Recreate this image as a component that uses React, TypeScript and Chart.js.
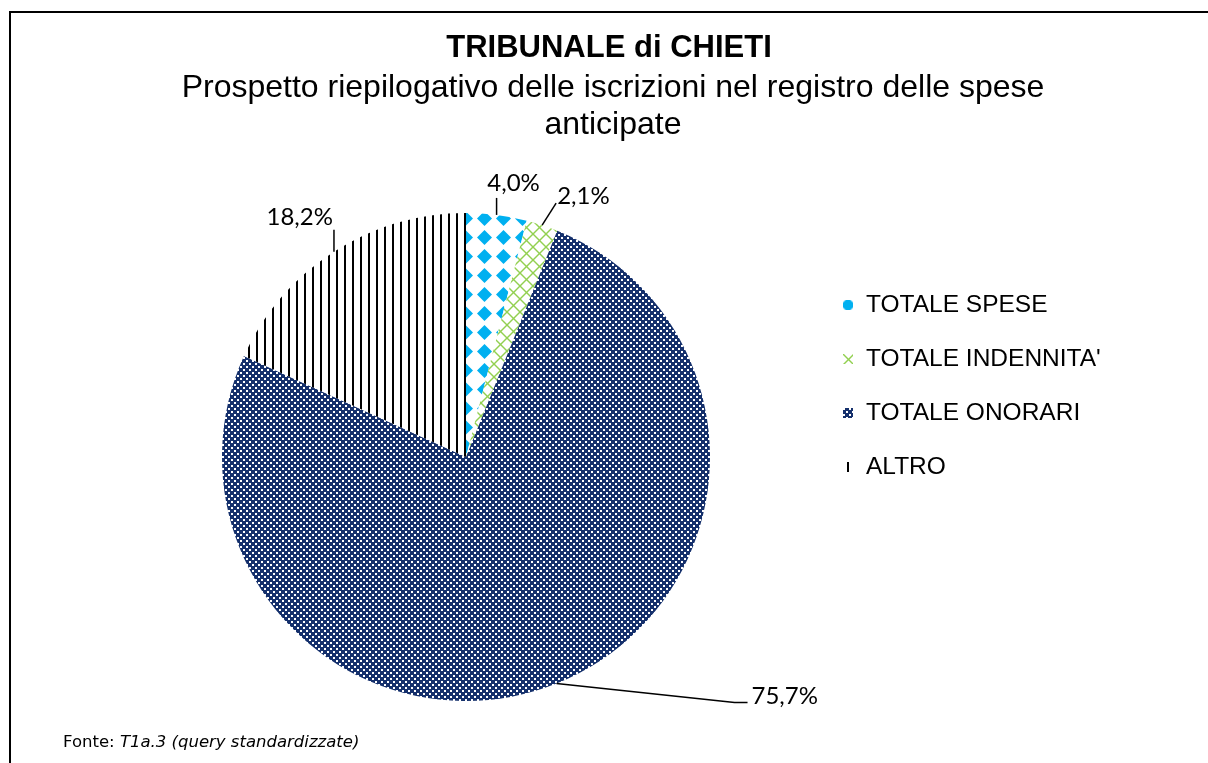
import React, { useEffect, useRef } from 'react';
import { Chart, registerables } from 'chart.js';

Chart.register(...registerables);

// ---------- data ----------
const categories: string[] = ['TOTALE SPESE', "TOTALE INDENNITA'", 'TOTALE ONORARI', 'ALTRO'];
const shares: number[] = [4.0, 2.1, 75.7, 18.2];
const titleText = 'TRIBUNALE di CHIETI';
const subtitleLines: string[] = [
  'Prospetto riepilogativo delle iscrizioni nel registro delle spese',
  'anticipate',
];
const sourcePrefix = 'Fonte: ';
const sourceText = 'T1a.3 (query standardizzate)';

// ---------- styles ----------
const SANS = '"Liberation Sans", Arial, sans-serif';
const LABEL_FONT = '24px Lato, "Noto Sans", sans-serif';

function makeTile(w: number, h: number, draw: (g: CanvasRenderingContext2D) => void): CanvasPattern {
  const c = document.createElement('canvas');
  c.width = w;
  c.height = h;
  const g = c.getContext('2d') as CanvasRenderingContext2D;
  g.fillStyle = '#ffffff';
  g.fillRect(0, 0, w, h);
  draw(g);
  return g.createPattern(c, 'repeat') as CanvasPattern;
}

function buildPatterns(): CanvasPattern[] {
  const spese = makeTile(19, 19, (g) => {
    g.fillStyle = '#00B0F0';
    g.beginPath();
    g.moveTo(9.5, 2);
    g.lineTo(17, 9.5);
    g.lineTo(9.5, 17);
    g.lineTo(2, 9.5);
    g.closePath();
    g.fill();
  });
  const indennita = makeTile(13, 13, (g) => {
    g.strokeStyle = '#92D050';
    g.lineWidth = 1.4;
    for (const o of [-13, 0, 13]) {
      g.beginPath();
      g.moveTo(o, 0);
      g.lineTo(o + 13, 13);
      g.stroke();
      g.beginPath();
      g.moveTo(o + 13, 0);
      g.lineTo(o, 13);
      g.stroke();
    }
  });
  const onorari = makeTile(6, 6, (g) => {
    g.fillStyle = '#15306C';
    g.fillRect(0, 0, 6, 6);
    g.fillStyle = '#ffffff';
    g.fillRect(0, 0, 2, 2);
    g.fillRect(3, 3, 2, 2);
  });
  const altro = makeTile(8, 8, (g) => {
    g.fillStyle = '#000000';
    g.fillRect(0, 0, 2, 8);
  });
  return [spese, indennita, onorari, altro];
}

// legend marker pattern offsets (styling only)
const markerShift = [[4.5, 4.5], [1, 1], [0, 0], [-4, 0]];

// leader line geometry relative to the slice's outer edge point (styling only)
const labelLayout = [
  { pts: [[0, -17]], text: [17, -15], align: 'center' },
  { pts: [[14, -22]], text: [1, -7], align: 'left' },
  { pts: [[178, 19], [191, 19]], text: [4, -6], align: 'left' },
  { pts: [[0, -22]], text: [-1, -13], align: 'right' },
];

const fmt = (v: number) => v.toFixed(1).replace('.', ',') + '%';

const decorPlugin = {
  id: 'decor',
  beforeDraw(chart: any) {
    const ctx = chart.ctx as CanvasRenderingContext2D;
    ctx.save();
    ctx.fillStyle = '#ffffff';
    ctx.fillRect(0, 0, chart.width, chart.height);
    ctx.restore();
  },
  afterDraw(chart: any) {
    const ctx = chart.ctx as CanvasRenderingContext2D;
    ctx.save();
    // frame
    ctx.fillStyle = '#000000';
    ctx.fillRect(9, 11, chart.width - 9, 2);
    ctx.fillRect(9, 11, 2, chart.height - 11);

    // titles
    ctx.textAlign = 'center';
    ctx.textBaseline = 'middle';
    ctx.fillStyle = '#000000';
    ctx.font = 'bold 31px ' + SANS;
    ctx.fillText(titleText, 609, 48);
    ctx.font = '32px ' + SANS;
    subtitleLines.forEach((ln, i) => ctx.fillText(ln, 613, 88 + i * 37));

    // legend
    const ds = chart.data.datasets[0];
    ctx.textAlign = 'left';
    ctx.font = '24.5px ' + SANS;
    (chart.data.labels as string[]).forEach((lab, i) => {
      const cy = 305 + i * 54;
      ctx.save();
      ctx.translate(843 - markerShift[i][0], cy - 5 - markerShift[i][1]);
      ctx.fillStyle = ds.backgroundColor[i];
      ctx.fillRect(markerShift[i][0], markerShift[i][1], 10, 10);
      ctx.restore();
      ctx.fillStyle = '#000000';
      ctx.fillText(lab, 866, cy);
    });

    // source
    ctx.font = '16.5px "DejaVu Sans", Verdana, sans-serif';
    ctx.textBaseline = 'alphabetic';
    ctx.fillText(sourcePrefix, 63, 747);
    const w = ctx.measureText(sourcePrefix).width;
    ctx.font = 'italic 16.5px "DejaVu Sans", Verdana, sans-serif';
    ctx.fillText(sourceText, 63 + w, 747);
    ctx.restore();
  },
  afterDatasetsDraw(chart: any) {
    const ctx = chart.ctx as CanvasRenderingContext2D;
    const meta = chart.getDatasetMeta(0);
    const values = chart.data.datasets[0].data as number[];
    ctx.save();
    ctx.strokeStyle = '#000000';
    ctx.lineWidth = 1.5;
    ctx.fillStyle = '#000000';
    ctx.font = LABEL_FONT;
    ctx.textBaseline = 'middle';
    meta.data.forEach((arc: any, i: number) => {
      const p = arc.getProps(['x', 'y', 'startAngle', 'endAngle', 'outerRadius'], true);
      const mid = (p.startAngle + p.endAngle) / 2;
      const ex = p.x + Math.cos(mid) * p.outerRadius;
      const ey = p.y + Math.sin(mid) * p.outerRadius;
      const L = labelLayout[i];
      ctx.beginPath();
      ctx.moveTo(ex, ey);
      let lx = ex;
      let ly = ey;
      L.pts.forEach(([dx, dy]) => {
        lx = ex + dx;
        ly = ey + dy;
        ctx.lineTo(lx, ly);
      });
      ctx.stroke();
      ctx.textAlign = L.align as CanvasTextAlign;
      ctx.fillText(fmt(values[i]), lx + L.text[0], ly + L.text[1]);
    });
    ctx.restore();
  },
};

export default function App() {
  const ref = useRef<HTMLCanvasElement | null>(null);
  useEffect(() => {
    if (!ref.current) return;
    const patterns = buildPatterns();
    const chart = new Chart(ref.current, {
      type: 'pie',
      data: {
        labels: categories,
        datasets: [
          {
            data: shares,
            backgroundColor: patterns as any,
            borderWidth: 0,
          },
        ],
      },
      options: {
        responsive: false,
        animation: false,
        rotation: 0,
        layout: { padding: { left: 222, right: 498, top: 213, bottom: 62 } },
        plugins: {
          legend: { display: false },
          title: { display: false },
          tooltip: { enabled: false },
        },
      },
      plugins: [decorPlugin],
    });
    return () => chart.destroy();
  }, []);
  return (
    <div style={{ position: 'absolute', left: 0, top: 0, width: 1208, height: 763, background: '#fff' }}>
      <canvas ref={ref} width={1208} height={763} style={{ display: 'block' }} />
    </div>
  );
}
